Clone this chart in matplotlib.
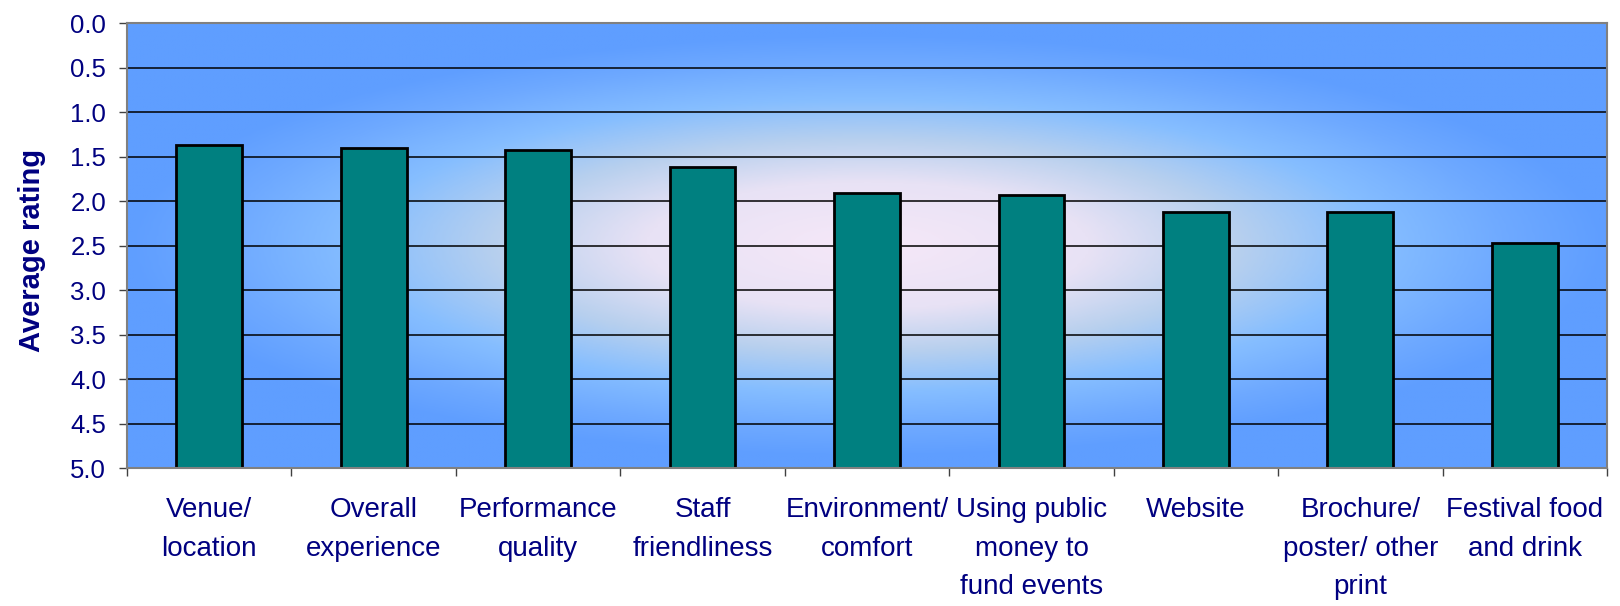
import numpy as np
import matplotlib
matplotlib.use('Agg')
import matplotlib.pyplot as plt
from matplotlib.colors import LinearSegmentedColormap

plt.rcParams['font.family'] = ['Liberation Sans', 'DejaVu Sans']

categories = ['Venue/\nlocation', 'Overall\nexperience', 'Performance\nquality',
              'Staff\nfriendliness', 'Environment/\ncomfort',
              'Using public\nmoney to\nfund events', 'Website',
              'Brochure/\nposter/ other\nprint', 'Festival food\nand drink']
ratings = [1.37, 1.40, 1.43, 1.62, 1.91, 1.93, 2.12, 2.12, 2.47]
y_ticks = [0.0, 0.5, 1.0, 1.5, 2.0, 2.5, 3.0, 3.5, 4.0, 4.5, 5.0]
Y_MAX = 5.0

NAVY = '#000080'
BAR = '#008080'

fig = plt.figure(figsize=(16.2, 6.06), dpi=100)
ax = fig.add_axes([0.0784, 0.2277, 0.9136, 0.7343])

# radial background gradient (pale centre -> blue edges)
cmap = LinearSegmentedColormap.from_list('bg', [
    (0.00, '#F6E8F8'), (0.30, '#E8E2F5'), (0.50, '#B8D0EE'),
    (0.69, '#86BEFF'), (0.87, '#6EA9FF'), (1.00, '#5F9EFF')])
gx, gy = np.meshgrid(np.linspace(-1, 1, 400), np.linspace(-1, 1, 200))
dist = np.clip(np.sqrt(gx ** 2 + (gy * 1.05) ** 2), 0, 1)
ax.imshow(dist, cmap=cmap, vmin=0, vmax=1, extent=(0, 1, 0, 1),
          transform=ax.transAxes, aspect='auto', zorder=0, interpolation='bilinear')

x = np.arange(len(categories))
for t in y_ticks[1:-1]:
    ax.axhline(t, color='black', lw=1.1, zorder=1)

vals = np.array(ratings)
ax.bar(x, Y_MAX - vals, bottom=vals, width=0.4, color=BAR,
       edgecolor='black', linewidth=2, zorder=2)

ax.set_xlim(-0.5, len(categories) - 0.5)
ax.set_ylim(Y_MAX, 0)
ax.set_yticks(y_ticks)
ax.set_yticklabels([f'{t:.1f}' for t in y_ticks], fontsize=18.5, color=NAVY)
ax.set_xticks(x)
ax.set_xticklabels(categories, fontsize=20, color=NAVY, linespacing=1.62,
                   va='top')
ax.set_xticks(np.arange(len(categories) + 1) - 0.5, minor=True)
ax.tick_params(axis='x', which='major', length=0, pad=21)
ax.tick_params(axis='x', which='minor', length=6, width=1, color='#404040',
               direction='out')
ax.tick_params(axis='y', length=6, width=1, color='#404040', pad=9)

ax.set_ylabel('Average rating', fontsize=21, fontweight='bold', color=NAVY)
ax.yaxis.set_label_coords(-0.0545, 0.49)

for s in ax.spines.values():
    s.set_color('#808080')
    s.set_linewidth(1.5)

fig.savefig('out.png', dpi=100)
